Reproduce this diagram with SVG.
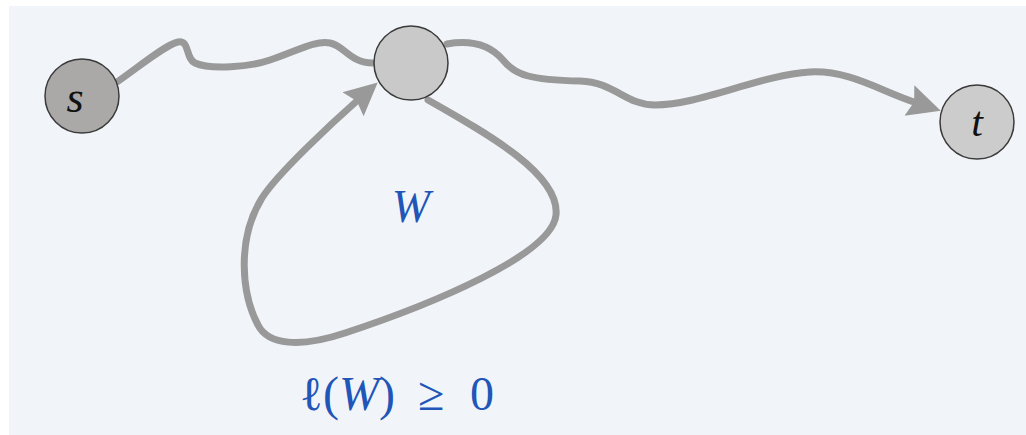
<svg xmlns="http://www.w3.org/2000/svg" width="1026" height="435" viewBox="0 0 1026 435">
<style>
.edge{fill:none;stroke:#999999;stroke-width:7;stroke-linecap:round;stroke-linejoin:round}
.node{stroke:#3a3a3a;stroke-width:1.5}
.lbl{font-family:'Liberation Serif','DejaVu Serif',serif;font-style:italic;fill:#111}
.blue{font-family:'Liberation Serif','DejaVu Serif',serif;fill:#2255b8}
</style>
<defs>
<marker id="arr" markerUnits="userSpaceOnUse" markerWidth="44" markerHeight="44" viewBox="0 -22 44 44" refX="8" refY="0" orient="auto">
<path d="M0,-16 L33,0 L0,16 L5,0 Z" fill="#999999"/>
</marker>
</defs>
<rect x="9" y="6" width="1017" height="429" fill="#f1f5f9"/>
<g id="connectors">
<path class="edge" d="M 117 82 C 140 66, 165 45, 178 42 C 190 40, 185 58, 195 63 C 210 70, 250 67, 270 60 C 295 52, 315 40, 330 43 C 345 46, 350 63, 373 63"/>
<path class="edge" marker-end="url(#arr)" d="M 447 44 C 470 40, 490 45, 503 60 C 515 75, 530 80, 580 81 C 615 82, 625 105, 655 105 C 700 105, 760 75, 810 72 C 850 70, 880 91, 917 103"/>
<path class="edge" marker-end="url(#arr)" d="M 428 100 C 490 135, 560 175, 556 215 C 552 255, 430 305, 345 333 C 300 348, 268 345, 258 325 C 242 295, 236 240, 262 198 C 277 174, 333 122, 359 99"/>
</g>
<g id="node-s">
<circle class="node" cx="82" cy="96" r="37" fill="#aba8a8"/>
<text class="lbl" x="75" y="112" font-size="44" text-anchor="middle">s</text>
</g>
<g id="node-m">
<circle class="node" cx="411" cy="63" r="37" fill="#c9c9c9"/>
</g>
<g id="node-t">
<circle class="node" cx="977" cy="122" r="37" fill="#cccccc"/>
<text class="lbl" x="977" y="136" font-size="42" text-anchor="middle">t</text>
</g>
<g id="label-W">
<text class="blue" x="411" y="222" font-size="46" font-style="italic" text-anchor="middle">W</text>
</g>
<g id="label-length">
<text class="blue" y="410" font-size="48"><tspan x="300">ℓ(</tspan><tspan font-style="italic">W</tspan><tspan>)</tspan><tspan x="418">≥</tspan><tspan x="470">0</tspan></text>
</g>
</svg>
